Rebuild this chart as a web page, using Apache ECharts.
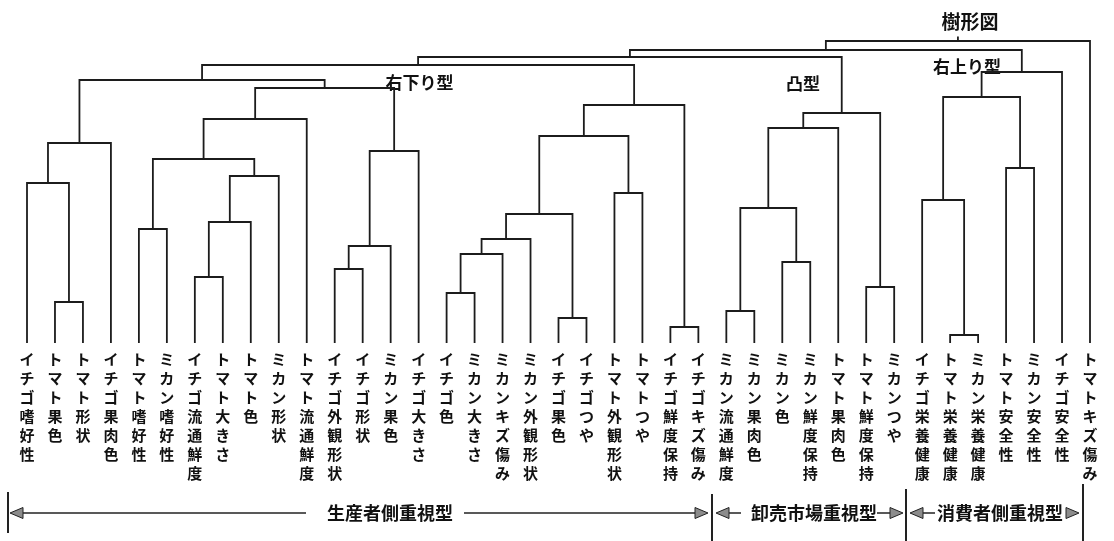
<!DOCTYPE html>
<html>
<head>
<meta charset="utf-8">
<script src="https://cdn.jsdelivr.net/npm/echarts@6/dist/echarts.min.js"></script>
<style>
  html, body { margin: 0; padding: 0; background: #fff; }
  #chart { width: 1114px; height: 541px; }
</style>
</head>
<body>
<div id="chart"></div>
<script>
// Leaf items, left to right
const leafLabels = [
  'イチゴ嗜好性', 'トマト果色', 'トマト形状', 'イチゴ果肉色', 'トマト嗜好性',
  'ミカン嗜好性', 'イチゴ流通鮮度', 'トマト大きさ', 'トマト色', 'ミカン形状',
  'トマト流通鮮度', 'イチゴ外観形状', 'イチゴ形状', 'ミカン果色', 'イチゴ大きさ',
  'イチゴ色', 'ミカン大きさ', 'ミカンキズ傷み', 'ミカン外観形状', 'イチゴ果色',
  'イチゴつや', 'トマト外観形状', 'トマトつや', 'イチゴ鮮度保持', 'イチゴキズ傷み',
  'ミカン流通鮮度', 'ミカン果肉色', 'ミカン色', 'ミカン鮮度保持', 'トマト果肉色',
  'トマト鮮度保持', 'ミカンつや', 'イチゴ栄養健康', 'トマト栄養健康', 'ミカン栄養健康',
  'トマト安全性', 'ミカン安全性', 'イチゴ安全性', 'トマトキズ傷み'
];

// Linkage: merge k creates node id = leafLabels.length + k
const mergeLeft = [
  1, 0, 40, 6, 42, 43, 4, 45, 46, 11,
  48, 49, 47, 41, 15, 53, 54, 19, 55, 21,
  57, 23, 59, 52, 25, 27, 63, 65, 30, 66,
  62, 33, 32, 35, 71, 73, 69, 75
];
const mergeRight = [
  2, 39, 3, 7, 8, 9, 5, 44, 10, 12,
  13, 14, 50, 51, 16, 17, 18, 20, 56, 22,
  58, 24, 60, 61, 26, 28, 64, 29, 31, 67,
  68, 34, 70, 36, 72, 37, 74, 38
];
const mergeHeight = [
  4.1, 16.0, 20.0, 6.6, 12.1, 16.7, 11.4, 18.4, 22.4, 7.4,
  9.7, 19.2, 25.5, 26.3, 5.0, 8.9, 10.4, 2.5, 12.9, 15.0,
  20.7, 1.6, 23.8, 27.8, 3.2, 8.1, 13.5, 21.5, 5.6, 23.0,
  28.6, 0.8, 14.3, 17.5, 24.6, 27.1, 29.3, 30.2
];

// Cluster group captions
const groupNames = ['右下り型', '凸型', '右上り型'];
const bandNames = ['生産者側重視型', '卸売市場重視型', '消費者側重視型'];

// Build the bracket segments: each node sits midway between its children
const nLeaf = leafLabels.length;
const nodeX = [], nodeH = [];
for (let i = 0; i < nLeaf; i++) { nodeX[i] = i; nodeH[i] = 0; }
const brackets = [];
mergeLeft.forEach(function (a, k) {
  const b = mergeRight[k];
  const id = nLeaf + k;
  nodeX[id] = (nodeX[a] + nodeX[b]) / 2;
  nodeH[id] = mergeHeight[k];
  brackets.push([nodeX[a], nodeH[a], nodeX[b], nodeH[b], mergeHeight[k]]);
});
const rootId = nLeaf + mergeLeft.length - 1;
// short riser from the root up toward the title
const rootStub = [[nodeX[rootId], nodeH[rootId], nodeX[rootId], nodeH[rootId] + 0.45]];

const LINE = '#1c1c1c';
const LW = 1.8;
const FONT = '"Noto Sans CJK JP", "Noto Sans", sans-serif';

const chart = echarts.init(document.getElementById('chart'), null, { renderer: 'canvas' });

function arrowHead(tipX, y, dir) {
  const w = 13, h = 5.5;
  const baseX = tipX - dir * w;
  return {
    type: 'polygon',
    shape: { points: [[tipX, y], [baseX, y - h], [baseX, y + h]] },
    style: { fill: '#8c8c8c', stroke: '#222', lineWidth: 1 }
  };
}
function hLine(x1, x2, y) {
  return { type: 'line', shape: { x1: x1, y1: y, x2: x2, y2: y }, style: { stroke: '#222', lineWidth: 1.5 } };
}
function vBar(x, y1, y2) {
  return { type: 'line', shape: { x1: x, y1: y1, x2: x, y2: y2 }, style: { stroke: '#222', lineWidth: 2 } };
}
function caption(text, x, y, size, align) {
  return {
    type: 'text', x: x, y: y,
    style: { text: text, fill: '#111', font: 'bold ' + size + 'px ' + FONT, align: align || 'center', verticalAlign: 'middle' }
  };
}

const bandY = 513;
const graphics = [
  caption('樹形図', 970, 21.5, 19),
  caption(groupNames[0], 419.5, 82.5, 17),
  caption(groupNames[1], 803, 84, 17),
  caption(groupNames[2], 967, 67, 17),

  vBar(8, 492, 533),
  arrowHead(10, bandY, -1),
  hLine(23, 306, bandY),
  caption(bandNames[0], 327, bandY, 18, 'left'),
  hLine(464, 696, bandY),
  arrowHead(708, bandY, 1),

  vBar(712, 494, 541),
  arrowHead(716, bandY, -1),
  hLine(729, 741, bandY),
  caption(bandNames[1], 751, bandY, 18, 'left'),
  hLine(877, 891, bandY),
  arrowHead(903, bandY, 1),

  vBar(906, 489, 541),
  arrowHead(910, bandY, -1),
  hLine(923, 935, bandY),
  caption(bandNames[2], 937, bandY, 18, 'left'),
  arrowHead(1079, bandY, 1),
  vBar(1083, 484, 541)
];

function renderBracket(params, api) {
  const p0 = api.coord([api.value(0), api.value(1)]);
  const p1 = api.coord([api.value(0), api.value(4)]);
  const p2 = api.coord([api.value(2), api.value(4)]);
  const p3 = api.coord([api.value(2), api.value(3)]);
  return {
    type: 'polyline',
    shape: { points: [p0, p1, p2, p3] },
    style: { stroke: LINE, lineWidth: LW, fill: null }
  };
}

chart.setOption({
  animation: false,
  backgroundColor: '#fff',
  grid: { left: 27, right: 24, top: 3, bottom: 198, containLabel: false },
  xAxis: {
    type: 'value', min: 0, max: nLeaf - 1, interval: 1,
    axisLine: { show: false }, axisTick: { show: false }, splitLine: { show: false },
    axisLabel: {
      margin: 7,
      fontFamily: FONT, fontSize: 15, fontWeight: 'bold', color: '#111',
      lineHeight: 19, verticalAlign: 'top', align: 'center',
      showMinLabel: true, showMaxLabel: true,
      formatter: function (v) {
        const name = leafLabels[Math.round(v)] || '';
        return name.split('').join('\n');
      }
    }
  },
  yAxis: {
    type: 'value', min: 0, max: 34, show: false, splitLine: { show: false }
  },
  series: [
    {
      type: 'custom',
      renderItem: renderBracket,
      data: brackets,
      encode: { x: [0, 2], y: [1, 3, 4] },
      silent: true
    },
    {
      type: 'custom',
      renderItem: function (params, api) {
        const a = api.coord([api.value(0), api.value(1)]);
        const b = api.coord([api.value(2), api.value(3)]);
        return { type: 'line', shape: { x1: a[0], y1: a[1], x2: b[0], y2: b[1] }, style: { stroke: LINE, lineWidth: LW } };
      },
      data: rootStub,
      encode: { x: [0, 2], y: [1, 3] },
      silent: true
    }
  ],
  graphic: graphics
});
</script>
</body>
</html>
